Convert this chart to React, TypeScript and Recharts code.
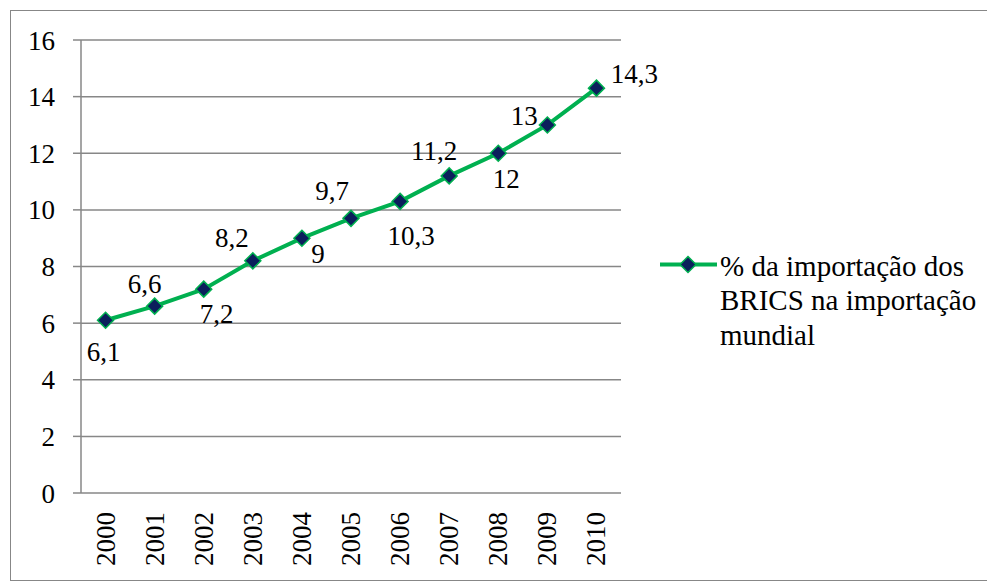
import React from "react";
import {
  LineChart,
  Line,
  XAxis,
  YAxis,
  CartesianGrid,
  Legend,
  LabelList,
} from "recharts";

const years = [2000, 2001, 2002, 2003, 2004, 2005, 2006, 2007, 2008, 2009, 2010];
const importShare = [6.1, 6.6, 7.2, 8.2, 9, 9.7, 10.3, 11.2, 12, 13, 14.3];
const yTicks = [0, 2, 4, 6, 8, 10, 12, 14, 16];
const seriesName = "% da importação dos BRICS na importação mundial";

// category boundaries (half a year either side of each point)
const yearEdges = [...years.map((y) => y - 0.5), years[years.length - 1] + 0.5];

// hand-placed data label offsets (dx, dy of text centre from the marker)
const labelOffsets: [number, number][] = [
  [-2, 32],
  [-10, -22],
  [13, 25],
  [-21, -23],
  [16, 16],
  [-19, -27],
  [11, 35],
  [-15, -25],
  [8, 26],
  [-23, -9],
  [38, -14],
];

const data = years.map((year, i) => ({ year, value: importShare[i] }));

const FONT = "Liberation Serif, Tinos, Times New Roman, DejaVu Serif, serif";
const GRID = "#878787";
const GREEN = "#00B050";
const NAVY = "#0B1F5C";

const Diamond = (props: any) => {
  const { cx, cy } = props;
  if (cx == null || cy == null) return null;
  const r = 8;
  return (
    <path
      d={`M${cx},${cy - r} L${cx + r},${cy} L${cx},${cy + r} L${cx - r},${cy} Z`}
      fill={NAVY}
      stroke={GREEN}
      strokeWidth={1.5}
    />
  );
};

const PointLabel = (props: any) => {
  const { x, y, value, index } = props;
  const [dx, dy] = labelOffsets[index] || [0, -20];
  return (
    <text
      x={x + dx}
      y={y + dy + 9}
      textAnchor="middle"
      style={{ fontSize: 27, fontFamily: FONT }}
      fill="#000"
    >
      {String(value).replace(".", ",")}
    </text>
  );
};

const YearTick = (props: any) => {
  const { x, y, payload } = props;
  const px = x + 9;
  const py = y + 19;
  return (
    <text
      x={px}
      y={py}
      transform={`rotate(-90, ${px}, ${py})`}
      textAnchor="end"
      style={{ fontSize: 27, fontFamily: FONT }}
      fill="#000"
    >
      {payload.value}
    </text>
  );
};

const LegendContent = (props: any) => {
  const item = props.payload && props.payload[0];
  return (
    <div style={{ display: "flex", alignItems: "flex-start", fontFamily: FONT }}>
      <svg width={60} height={32} style={{ flex: "none" }}>
        <line x1={0} y1={15.5} x2={57} y2={15.5} stroke={GREEN} strokeWidth={4} />
        <path d="M28,7.5 L36,15.5 L28,23.5 L20,15.5 Z" fill={NAVY} stroke={GREEN} strokeWidth={1.5} />
      </svg>
      <div style={{ fontSize: 29, lineHeight: "34.5px", width: 270, color: "#000" }}>
        {item ? item.value : seriesName}
      </div>
    </div>
  );
};

export default function App() {
  return (
    <div
      style={{
        position: "relative",
        marginLeft: 2,
        marginTop: 2,
        width: 983,
        height: 569,
        border: `1px solid ${GRID}`,
        background: "#fff",
        fontFamily: FONT,
      }}
    >
      <LineChart
        width={983}
        height={569}
        data={data}
        margin={{ top: 29, right: 373, bottom: 0, left: 0 }}
        style={{ fontFamily: FONT }}
      >
        <CartesianGrid vertical={false} stroke={GRID} strokeWidth={1.5} />
        <XAxis
          dataKey="year"
          type="number"
          domain={[yearEdges[0], yearEdges[yearEdges.length - 1]]}
          ticks={yearEdges}
          allowDataOverflow
          tick={false}
          tickSize={8}
          height={0}
          stroke={GRID}
          strokeWidth={1.5}
        />
        <XAxis
          xAxisId="labels"
          dataKey="year"
          type="number"
          domain={[yearEdges[0], yearEdges[yearEdges.length - 1]]}
          ticks={years}
          allowDataOverflow
          axisLine={false}
          tickLine={false}
          tickSize={0}
          tickMargin={0}
          height={87}
          interval={0}
          tick={<YearTick />}
        />
        <YAxis
          domain={[0, 16]}
          ticks={yTicks}
          width={70}
          tickSize={8}
          tickMargin={18}
          stroke={GRID}
          strokeWidth={1.5}
          tick={{ fill: "#000", fontSize: 27, fontFamily: FONT, style: { fontFamily: FONT } }}
        />
        <Legend
          layout="vertical"
          align="center"
          verticalAlign="middle"
          content={<LegendContent />}
          wrapperStyle={{ left: 649, top: 237.5, width: 340 }}
        />
        <Line
          type="linear"
          dataKey="value"
          name={seriesName}
          stroke={GREEN}
          strokeWidth={4}
          dot={<Diamond />}
          activeDot={false}
          isAnimationActive={false}
        >
          <LabelList dataKey="value" content={<PointLabel />} />
        </Line>
      </LineChart>
    </div>
  );
}
